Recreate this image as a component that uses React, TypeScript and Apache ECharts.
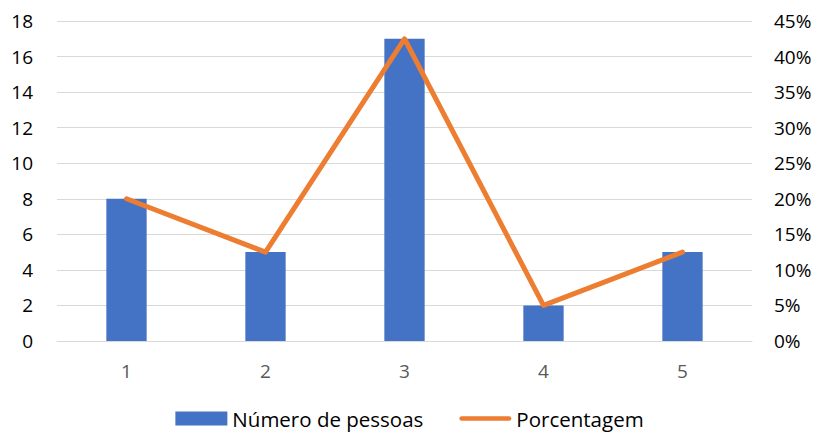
import React, { useEffect, useRef } from "react";
import * as echarts from "echarts";

const categories = ["1", "2", "3", "4", "5"];
const pessoas = [8, 5, 17, 2, 5];
const porcentagem = [20, 12.5, 42.5, 5, 12.5];

const FONT = "'Open Sans', 'Liberation Sans', sans-serif";

export default function App() {
  const ref = useRef<HTMLDivElement>(null);
  useEffect(() => {
    if (!ref.current) return;
    const chart = echarts.init(ref.current, null, { renderer: "svg" });
    chart.setOption({
      animation: false,
      grid: { left: 57, right: 67, top: 21, bottom: 96 },
      legend: {
        bottom: 3,
        left: "center",
        itemWidth: 52,
        itemHeight: 14,
        itemGap: 36,
        textStyle: { fontFamily: FONT, fontSize: 20.5, color: "#000", padding: [0, 0, 0, 0] },
        data: [
          { name: "Número de pessoas", icon: "rect" },
          { name: "Porcentagem", icon: "path://M2.5,0 H53.5 A2.5,2.5 0 0 1 53.5,5 H2.5 A2.5,2.5 0 0 1 2.5,0 Z" },
        ],
      },
      xAxis: {
        type: "category",
        data: categories,
        axisLine: { show: true, lineStyle: { color: "#D9D9D9", width: 1 } },
        axisTick: { show: false },
        axisLabel: { fontFamily: FONT, fontSize: 19, color: "#595959", margin: 20 },
      },
      yAxis: [
        {
          type: "value",
          min: 0,
          max: 18,
          interval: 2,
          axisLine: { show: false },
          axisTick: { show: false },
          splitLine: { lineStyle: { color: "#D9D9D9", width: 1 } },
          axisLabel: { fontFamily: FONT, fontSize: 19, color: "#000", margin: 24 },
        },
        {
          type: "value",
          min: 0,
          max: 45,
          interval: 5,
          axisLine: { show: false },
          axisTick: { show: false },
          splitLine: { show: false },
          axisLabel: { fontFamily: FONT, fontSize: 19, color: "#000", margin: 22, formatter: "{value}%" },
        },
      ],
      series: [
        {
          name: "Número de pessoas",
          type: "bar",
          data: pessoas,
          barWidth: "29%",
          itemStyle: { color: "#4472C4" },
        },
        {
          name: "Porcentagem",
          type: "line",
          yAxisIndex: 1,
          data: porcentagem,
          symbol: "none",
          lineStyle: { color: "#ED7D31", width: 5, cap: "round", join: "round" },
          itemStyle: { color: "#ED7D31" },
        },
      ],
    });
    return () => chart.dispose();
  }, []);
  return <div ref={ref} style={{ width: 819, height: 437, position: "absolute", left: 0, top: 0 }} />;
}
